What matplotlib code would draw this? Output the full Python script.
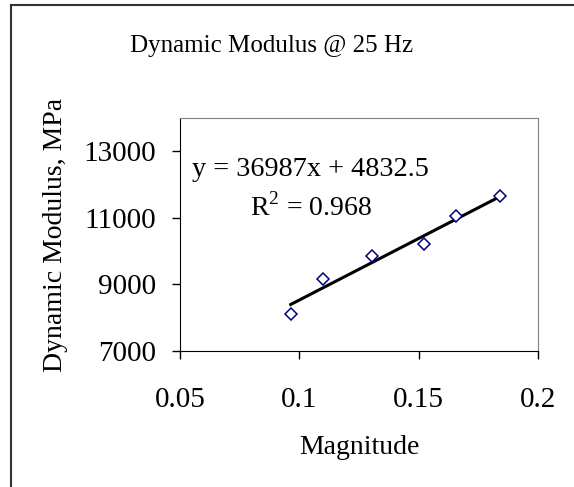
import numpy as np
import matplotlib
matplotlib.use('Agg')
import matplotlib.pyplot as plt
from matplotlib.lines import Line2D

# data
magnitude = [0.0964, 0.110, 0.1303, 0.1522, 0.1656, 0.184]
modulus = [8110, 9170, 9860, 10200, 11070, 11660]
# linear trend as printed on the chart
slope = 36987
intercept = 4832.5
r2 = 0.968

plt.rcParams['font.family'] = ['Liberation Serif', 'DejaVu Serif']
plt.rcParams['mathtext.fontset'] = 'custom'
plt.rcParams['mathtext.rm'] = 'Liberation Serif'

fig = plt.figure(figsize=(5.74, 4.87), dpi=100)
ax = fig.add_axes([180 / 574, 136 / 487, 358 / 574, 233 / 487])

x_fit = np.array([min(magnitude), max(magnitude)])
ax.plot(x_fit, slope * x_fit + intercept, color='black', lw=2.2, zorder=2)
ax.plot(magnitude, modulus, 'D', ms=6.5, mfc='white', mec='#000080', mew=1.1, zorder=3)

ax.set_xlim(0.05, 0.2)
ax.set_ylim(7000, 14000)
ax.set_xticks([0.05, 0.1, 0.15, 0.2])
ax.set_xticklabels(['0.05', '0.1', '0.15', '0.2'])
ax.set_yticks([7000, 9000, 11000, 13000])
ax.tick_params(labelsize=21, direction='out', length=6, width=1)
ax.tick_params(axis='x', pad=20)
ax.tick_params(axis='y', pad=11)

for s in ['top', 'right']:
    ax.spines[s].set_color('#808080')
for s in ['left', 'bottom']:
    ax.spines[s].set_color('black')

ax.set_xlabel('Magnitude', fontsize=20, labelpad=16)
ax.set_ylabel('Dynamic Modulus, MPa', fontsize=20, labelpad=11)

fig.text(272 / 574, 1 - 46 / 487, 'Dynamic Modulus @ 25 Hz', fontsize=18,
         ha='center', va='center')
fig.text(192 / 574, 1 - 169 / 487, 'y = %dx + %.1f' % (slope, intercept),
         fontsize=20.3, ha='left', va='center')
fig.text(250 / 574, 1 - 207 / 487, r'R$^\mathrm{2}$ = %.3f' % r2, fontsize=20,
         ha='left', va='center')

# outer chart frame (left and top edges only)
fig.add_artist(Line2D([11 / 574, 11 / 574], [0, 1 - 5 / 487], color='#333333', lw=1.5,
                      transform=fig.transFigure))
fig.add_artist(Line2D([11 / 574, 1], [1 - 5 / 487, 1 - 5 / 487], color='#333333', lw=1.5,
                      transform=fig.transFigure))

fig.savefig('out.png', dpi=100)
